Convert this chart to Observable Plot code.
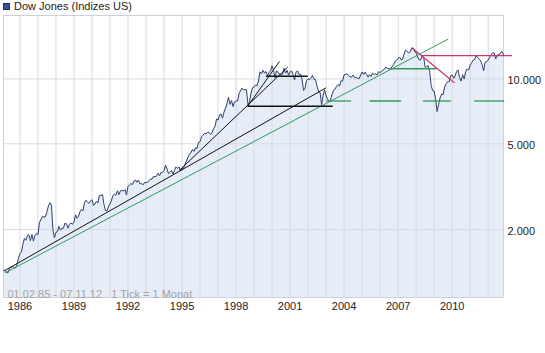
<!DOCTYPE html>
<html><head><meta charset="utf-8">
<script src="https://cdn.jsdelivr.net/npm/d3@7"></script>
<script src="https://cdn.jsdelivr.net/npm/@observablehq/plot@0.6"></script>
<style>
body{margin:0;background:#fff;font-family:"Liberation Sans",Arial,sans-serif;}
#legend{height:14px;position:relative;font-size:11px;color:#222;}
#legend .sw{position:absolute;left:3px;top:3px;width:5px;height:5px;background:#3a5590;border:1px solid #1e2f5a;}
#legend .lb{position:absolute;left:14px;top:0;line-height:12px;white-space:nowrap;}
</style></head><body>
<div id="legend"><span class="sw"></span><span class="lb">Dow Jones (Indizes US)</span></div>
<div id="chart"></div>
<script>
// Monthly closes, Jan 1985 .. Oct 2012 (each plotted at the first day of the following month)
const dowCloses = [
1287,1299,1267,1258,1315,1335,1347,1334,1329,1374,1472,1547,
1571,1709,1819,1784,1877,1893,1775,1898,1768,1878,1914,1896,
2158,2224,2305,2286,2292,2419,2572,2663,2596,1994,1834,1939,
1958,2072,1988,2032,2031,2142,2129,2032,2113,2149,2115,2169,
2342,2258,2294,2419,2480,2440,2661,2737,2693,2645,2706,2753,
2591,2627,2707,2657,2877,2881,2905,2614,2452,2442,2560,2634,
2736,2882,2914,2888,3028,2907,3025,3044,3017,3069,2895,3169,
3223,3268,3235,3359,3397,3319,3394,3257,3272,3226,3305,3301,
3310,3371,3435,3428,3527,3516,3539,3651,3555,3681,3684,3754,
3978,3832,3636,3682,3758,3625,3765,3913,3843,3908,3739,3834,
3844,4011,4158,4321,4465,4556,4708,4611,4789,4755,5074,5117,
5395,5486,5587,5569,5643,5655,5529,5616,5882,6029,6522,6448,
6813,6878,6583,7009,7331,7673,8223,7622,7945,7442,7823,7908,
7907,8546,8800,9063,8900,8952,8883,7539,7843,8592,9117,9181,
9359,9307,9786,10789,10560,10971,10655,10829,10337,10730,10878,11497,
10941,10128,10922,10734,10522,10448,10522,11215,10651,10971,10414,10787,
10887,10495,9879,10735,10912,10502,10523,9950,8848,9075,9852,10022,
9920,10106,10404,9946,9925,9243,8737,8664,7592,8397,8896,8342,
8054,7891,7992,8480,8850,8985,9234,9416,9275,9801,9782,10454,
10488,10584,10358,10226,10188,10435,10140,10174,10080,10027,10428,10783,
10490,10766,10504,10193,10467,10275,10641,10482,10569,10440,10806,10718,
10865,10993,11109,11367,11168,11150,11186,11381,11679,12081,12222,12463,
12622,12269,12354,13063,13628,13409,13212,13358,13896,13930,13372,13265,
12650,12266,12263,12820,12638,11350,11378,11544,10851,9325,8829,8776,
8001,7063,7609,8168,8500,8447,9172,9496,9712,9713,10345,10428,
10067,10325,10857,11009,10137,9774,10466,10015,10788,11118,11006,11578,
11892,12226,12320,12811,12570,12414,12143,11614,10913,11955,12046,12218,
12633,12952,13212,13214,12393,12880,13009,13091,13437,13096
];
const firstDate = "1985-02-01";
const lastPoint = {date: "2012-11-07", value: 12933};

const xTickYears = [1986, 1989, 1992, 1995, 1998, 2001, 2004, 2007, 2010];
const gridYears = d3.range(1986, 2013);
const yTicks = [2000, 5000, 10000];
const yDomain = [968, 19700];
const xDomain = ["1985-02-01", "2012-11-07"];

// trend lines: [start date, start value, end date, end value]
const blackTrends = [
  ["1985-03-01", 1292, "2003-01-01", 9100],
  ["1994-11-06", 3762, "2000-11-13", 11343],
  ["1998-08-25", 7476, "2000-05-30", 12058]
];
const blackLevels = [
  ["1998-08-25", 7476, "2003-05-15", 7476],
  ["1999-09-01", 10303, "2001-12-25", 10303]
];
const greenTrends = [
  ["1985-03-01", 1258, "2009-10-12", 15316]
];
const greenLevels = [
  ["2006-08-10", 11151, "2009-02-10", 11151],
  ["2003-01-01", 7900, "2004-05-20", 7900],
  ["2005-05-30", 7900, "2007-03-01", 7900],
  ["2008-05-15", 7900, "2009-12-10", 7900],
  ["2011-03-22", 7900, "2012-11-20", 7900]
];
const redLines = [
  ["2007-10-11", 13928, "2010-02-17", 9602],
  ["2008-04-10", 12826, "2013-04-25", 12826]
];
const captionText = "01.02.85 - 07.11.12\u00a0\u00a0\u00a01 Tick = 1 Monat";

const start = new Date(firstDate);
const series = dowCloses.map((v, i) => ({date: d3.utcMonth.offset(start, i), value: v}));
series.push({date: new Date(lastPoint.date), value: lastPoint.value});

const seg = arr => arr.map(([a, b, c, d]) => ({x1: new Date(a), y1: b, x2: new Date(c), y2: d}));
const fmt = d => d3.format(",")(d).replace(/,/g, ".");
const grid = "#d6d9e0";

const chart = Plot.plot({
  width: 545, height: 339,
  marginTop: 1, marginBottom: 56, marginLeft: 3, marginRight: 42,
  style: {fontFamily: "Liberation Sans, Arial, sans-serif", fontSize: "11px", color: "#222", background: "#fff", overflow: "visible"},
  x: {type: "utc", domain: xDomain.map(d => new Date(d))},
  y: {type: "log", domain: yDomain},
  marks: [
    Plot.areaY(series, {x: "date", y1: yDomain[0], y2: "value", fill: "#e6edf8"}),
    Plot.ruleX(gridYears.map(y => new Date(Date.UTC(y, 0, 1))), {stroke: grid}),
    Plot.ruleY(yTicks, {stroke: grid}),
    Plot.frame({stroke: "#cdd0d6"}),
    Plot.axisX({ticks: xTickYears.map(y => new Date(Date.UTC(y, 0, 1))), tickFormat: "%Y", tickSize: 0, tickPadding: 5, label: null}),
    Plot.axisY({anchor: "right", ticks: yTicks, tickFormat: fmt, tickSize: 0, tickPadding: 4, dy: 2, label: null}),
    Plot.lineY(series, {x: "date", y: "value", stroke: "#2d3f6a", strokeWidth: 1}),
    Plot.link(seg(greenTrends), {x1: "x1", y1: "y1", x2: "x2", y2: "y2", stroke: "#2f9a5b", strokeWidth: 1}),
    Plot.link(seg(greenLevels), {x1: "x1", y1: "y1", x2: "x2", y2: "y2", stroke: "#2f9a5b", strokeWidth: 1.3}),
    Plot.link(seg(blackTrends), {x1: "x1", y1: "y1", x2: "x2", y2: "y2", stroke: "#111", strokeWidth: 1}),
    Plot.link(seg(blackLevels), {x1: "x1", y1: "y1", x2: "x2", y2: "y2", stroke: "#111", strokeWidth: 1.5}),
    Plot.link(seg(redLines), {x1: "x1", y1: "y1", x2: "x2", y2: "y2", stroke: "#cc3366", strokeWidth: 1.2}),
    Plot.text([captionText], {frameAnchor: "bottom-left", textAnchor: "start", lineAnchor: "bottom", dx: 4, dy: 0, fill: "#a3a3a3", fontSize: 11})
  ]
});
document.getElementById("chart").appendChild(chart);
</script>
</body></html>
